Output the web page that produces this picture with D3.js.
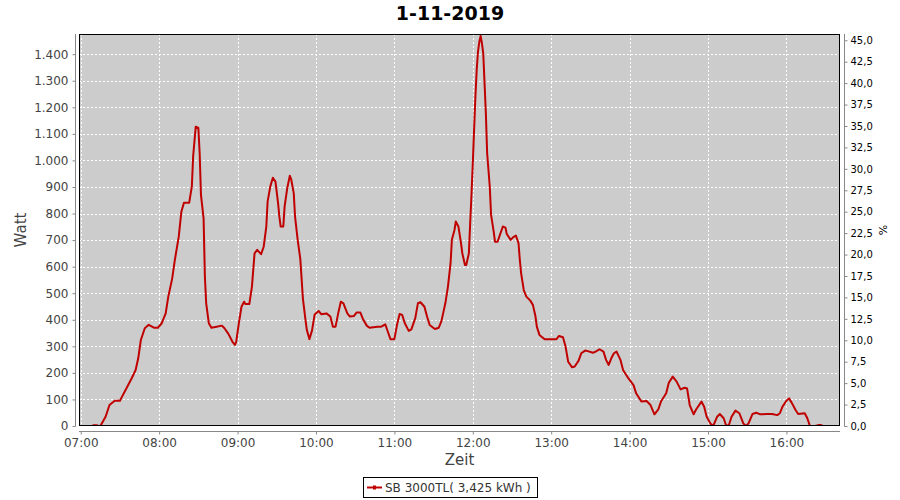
<!DOCTYPE html>
<html><head><meta charset="utf-8">
<script src="https://cdn.jsdelivr.net/npm/d3@7"></script>
<style>
html,body{margin:0;padding:0;background:#fff;}
svg{display:block;font-family:"DejaVu Sans",sans-serif;}
</style></head>
<body><svg id="chart" width="900" height="500"></svg>
<script>
const title = "1-11-2019";
const seriesName = "SB 3000TL( 3,425 kWh )";
const times = ["07:09","07:12","07:14","07:15","07:19","07:22","07:26","07:30","07:31","07:35","07:39","07:42","07:44","07:46","07:49","07:52","07:56","07:59",
"08:02","08:05","08:07","08:10","08:12","08:15","08:17","08:19","08:23","08:25","08:26","08:28","08:30","08:31","08:32","08:34","08:35","08:36","08:38","08:40","08:44","08:48","08:50","08:53","08:56","08:58","08:59",
"09:01","09:03","09:05","09:06","09:09","09:11","09:13","09:15","09:18","09:20","09:22","09:23","09:25","09:27","09:29","09:31","09:32","09:33","09:35","09:36","09:38","09:40","09:41","09:43","09:44","09:46","09:48","09:50","09:52","09:53","09:55","09:57","09:59",
"10:02","10:04","10:08","10:11","10:13","10:15","10:17","10:19","10:21","10:24","10:26","10:29","10:31","10:34","10:36","10:39","10:41","10:47","10:50","10:53","10:55","10:57",
"11:00","11:02","11:04","11:06","11:08","11:11","11:13","11:16","11:18","11:20","11:23","11:25","11:27","11:31","11:34","11:36","11:39","11:41","11:43","11:44","11:46","11:47","11:49","11:51","11:52","11:54","11:55","11:57","11:58","11:59",
"12:00","12:01","12:02","12:03","12:04","12:05","12:06","12:07","12:08","12:09","12:10","12:11","12:13","12:14","12:16","12:17","12:19","12:21","12:23","12:25","12:26","12:29","12:31","12:33","12:35","12:36","12:37","12:39","12:41","12:44","12:46","12:48","12:49","12:51","12:55","12:59",
"13:04","13:06","13:09","13:11","13:13","13:16","13:18","13:21","13:23","13:26","13:28","13:32","13:34","13:37","13:40","13:42","13:44","13:46","13:48","13:50","13:53","13:55","13:59",
"14:03","14:05","14:09","14:13","14:16","14:19","14:22","14:24","14:28","14:30","14:33","14:36","14:39","14:42","14:44","14:46","14:49","14:51","14:55","14:57","14:59",
"15:02","15:04","15:07","15:09","15:12","15:14","15:16","15:18","15:21","15:24","15:27","15:29","15:31","15:34","15:37","15:40","15:45","15:49","15:53","15:55","15:57",
"16:00","16:02","16:04","16:07","16:09","16:14","16:16","16:18","16:22","16:25","16:26","16:28"];
const watts = [3,3,0,0,35,79,95,95,105,142,180,211,255,324,368,381,370,370,
387,424,487,556,625,713,807,841,841,901,1014,1127,1122,1027,870,782,562,462,387,370,374,378,368,347,318,305,318,
387,449,468,459,459,525,650,663,647,675,751,845,901,935,920,839,788,751,751,826,895,942,930,876,788,701,630,480,399,362,327,360,420,
433,421,424,412,374,374,424,468,462,424,412,414,427,427,402,377,370,374,374,383,355,327,
327,380,422,418,387,358,364,406,462,466,449,412,380,365,370,395,462,525,613,701,738,770,751,688,650,606,606,650,763,870,
989,1115,1240,1341,1410,1447,1469,1441,1404,1291,1178,1027,901,795,732,694,694,723,751,747,723,701,711,717,688,625,575,512,487,472,456,412,374,343,327,327,
327,339,334,299,242,221,224,246,274,284,282,276,280,289,280,249,230,255,274,280,249,211,180,
154,123,92,94,79,44,63,92,123,163,186,167,138,144,141,79,44,63,92,73,35,
8,0,35,45,29,0,4,35,58,48,10,0,10,45,50,44,45,45,41,48,73,
95,104,88,60,45,48,29,0,0,4,4,0];
const leftTicks = [0,100,200,300,400,500,600,700,800,900,1000,1100,1200,1300,1400];
const rightTicks = [0,2.5,5,7.5,10,12.5,15,17.5,20,22.5,25,27.5,30,32.5,35,37.5,40,42.5,45];
const xTickLabels = ["07:00","08:00","09:00","10:00","11:00","12:00","13:00","14:00","15:00","16:00"];
const xDomain = ["06:58:40","16:41:00"];
const leftMax = 1476, rightMax = 45.73;
const yTitle = "Watt", y2Title = "%", xTitle = "Zeit";

const de = d3.formatLocale({decimal:",",thousands:".",grouping:[3],currency:["","€"]});
const parse = s => { const p = s.split(":").map(Number); return new Date(2019,10,1,p[0],p[1],p[2]||0); };

const svg = d3.select("#chart");
const L=79, R=840, T=34, B=426;
const x = d3.scaleTime().domain(xDomain.map(parse)).range([L,R]);
const y = d3.scaleLinear().domain([0,leftMax]).range([B,T]);
const y2 = d3.scaleLinear().domain([0,rightMax]).range([B,T]);
const data = times.map((t,i)=>({t:parse(t),v:watts[i]}));

svg.append("text").attr("x",450).attr("y",20).attr("text-anchor","middle")
  .attr("font-size",19).attr("font-weight","bold").attr("fill","#000").text(title);

// plot background
svg.append("rect").attr("x",L).attr("y",T).attr("width",R-L).attr("height",B-T).attr("fill","#cccccc");

// gridlines
const grid = svg.append("g").attr("stroke","#fff").attr("stroke-width",1).attr("stroke-dasharray","2,2").attr("shape-rendering","crispEdges");
leftTicks.forEach(v=>grid.append("line").attr("x1",L).attr("x2",R).attr("y1",Math.round(y(v))+0.5).attr("y2",Math.round(y(v))+0.5));
xTickLabels.forEach(s=>grid.append("line").attr("y1",T).attr("y2",B).attr("x1",Math.round(x(parse(s)))+0.5).attr("x2",Math.round(x(parse(s)))+0.5));

// line
svg.append("clipPath").attr("id","pc").append("rect").attr("x",L).attr("y",T).attr("width",R-L).attr("height",B-T);
svg.append("path").datum(data).attr("clip-path","url(#pc)")
  .attr("d",d3.line().x(d=>x(d.t)).y(d=>y(d.v)))
  .attr("fill","none").attr("stroke","#c00000").attr("stroke-width",2).attr("stroke-linejoin","round");

// outline
svg.append("rect").attr("x",L+0.5).attr("y",T+0.5).attr("width",R-L-1).attr("height",B-T-1).attr("fill","none").attr("stroke","#000").attr("stroke-width",1);

// left axis
const gl = svg.append("g").attr("transform","translate(75.5,0)")
  .call(d3.axisLeft(y).tickValues(leftTicks).tickSize(3).tickPadding(4).tickFormat(de.format(",d")));
gl.select(".domain").attr("stroke","#888").attr("d",`M0,${T}V${B+0.5}`);
gl.selectAll(".tick line").attr("stroke","#888");
gl.selectAll("text").attr("font-size",12).attr("fill","#444").attr("font-family","DejaVu Sans");

// right axis
const gr = svg.append("g").attr("transform","translate(844.5,0)")
  .call(d3.axisRight(y2).tickValues(rightTicks).tickSize(3).tickPadding(3).tickFormat(de.format(",.1f")));
gr.select(".domain").attr("stroke","#888").attr("d",`M0,${T}V${B+0.5}`);
gr.selectAll(".tick line").attr("stroke","#888");
gr.selectAll("text").attr("font-size",10).attr("fill","#000").attr("font-family","DejaVu Sans");

// bottom axis
const gb = svg.append("g").attr("transform","translate(0,431.5)")
  .call(d3.axisBottom(x).tickValues(xTickLabels.map(parse)).tickSize(3).tickPadding(4).tickFormat(d3.timeFormat("%H:%M")));
gb.select(".domain").attr("stroke","#888").attr("d",`M${L},0H${R}`);
gb.selectAll(".tick line").attr("stroke","#888");
gb.selectAll("text").attr("font-size",12).attr("fill","#444").attr("font-family","DejaVu Sans");

// axis titles
svg.append("text").attr("transform","translate(26,230) rotate(-90)").attr("text-anchor","middle")
  .attr("font-size",15).attr("fill","#444").text(yTitle);
svg.append("text").attr("transform","translate(887,230) rotate(-90)").attr("text-anchor","middle")
  .attr("font-size",11).attr("fill","#000").text(y2Title);
svg.append("text").attr("x",(L+R)/2).attr("y",465).attr("text-anchor","middle")
  .attr("font-size",15).attr("fill","#444").text(xTitle);

// legend
const lg = svg.append("g");
lg.append("rect").attr("x",363.5).attr("y",477.5).attr("width",174).attr("height",20).attr("fill","#fff").attr("stroke","#000");
lg.append("line").attr("x1",367).attr("x2",382).attr("y1",487.5).attr("y2",487.5).attr("stroke","#c00000").attr("stroke-width",2);
lg.append("rect").attr("x",373).attr("y",485.5).attr("width",3).attr("height",4).attr("fill","#c00000");
lg.append("text").attr("x",385).attr("y",492).attr("font-size",12).attr("fill","#333").text(seriesName);
</script></body></html>
